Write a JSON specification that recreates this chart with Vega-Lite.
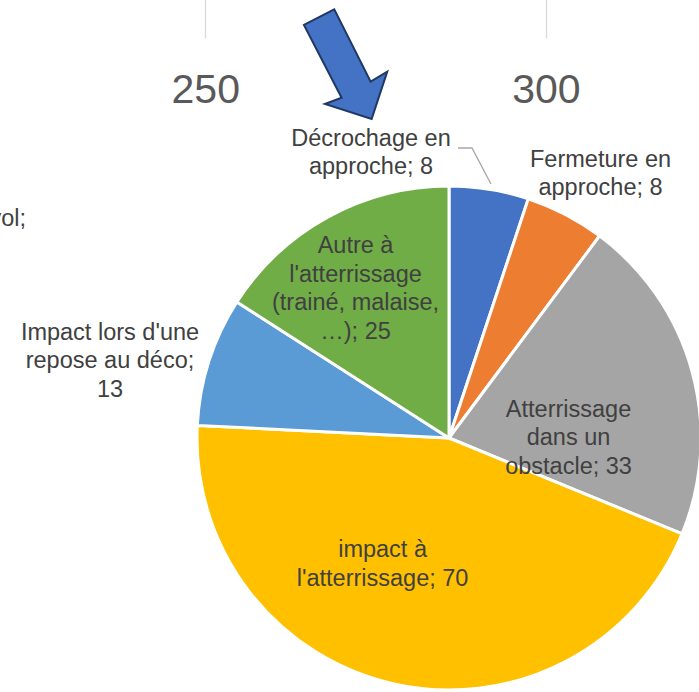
{
  "$schema": "https://vega.github.io/schema/vega-lite/v6.json",
  "width": 500,
  "height": 500,
  "autosize": {"type": "none"},
  "padding": {"left": 199, "top": 188, "right": 0, "bottom": 4},
  "background": "#ffffff",
  "config": {"view": {"stroke": null}},
  "layer": [
    {
      "data": {
        "values": [
          {"cause": "Décrochage en approche", "label": "Décrochage en\napproche; 8", "value": 8, "order": 1},
          {"cause": "Fermeture en approche", "label": "Fermeture en\napproche; 8", "value": 8, "order": 2},
          {"cause": "Atterrissage dans un obstacle", "label": "Atterrissage\ndans un\nobstacle; 33", "value": 33, "order": 3},
          {"cause": "impact à l'atterrissage", "label": "impact à\nl'atterrissage; 70", "value": 70, "order": 4},
          {"cause": "Impact lors d'une repose au déco", "label": "Impact lors d'une\nrepose au déco;\n13", "value": 13, "order": 5},
          {"cause": "Autre à l'atterrissage (trainé, malaise, …)", "label": "Autre à\nl'atterrissage\n(trainé, malaise,\n…); 25", "value": 25, "order": 6}
        ]
      },
      "transform": [
        {"stack": "value", "groupby": [], "sort": [{"field": "order", "order": "ascending"}], "as": ["v0", "v1"]},
        {"calculate": "(datum.v0 + datum.v1) / 2", "as": "mid"}
      ],
      "layer": [
        {
          "mark": {"type": "arc", "outerRadius": 252, "stroke": "#ffffff", "strokeWidth": 3},
          "encoding": {
            "theta": {"field": "v0", "type": "quantitative", "scale": {"domain": [0, 157], "zero": true, "nice": false}},
            "theta2": {"field": "v1"},
            "color": {
              "field": "cause",
              "type": "nominal",
              "sort": null,
              "scale": {
                "domain": ["Décrochage en approche", "Fermeture en approche", "Atterrissage dans un obstacle", "impact à l'atterrissage", "Impact lors d'une repose au déco", "Autre à l'atterrissage (trainé, malaise, …)"],
                "range": ["#4472C4", "#ED7D31", "#A5A5A5", "#FFC000", "#5B9BD5", "#70AD47"]
              },
              "legend": null
            }
          }
        },
        {
          "transform": [{"filter": "datum.order == 1"}],
          "mark": {"type": "text", "radius": 288.7, "dx": -124, "dy": -14, "font": "Liberation Sans", "fontSize": 23.5, "lineHeight": 28, "lineBreak": "\n", "align": "center", "baseline": "middle", "color": "#404040"},
          "encoding": {"theta": {"field": "mid", "type": "quantitative"}, "text": {"field": "label", "type": "nominal"}}
        },
        {
          "transform": [{"filter": "datum.order == 2"}],
          "mark": {"type": "text", "radius": 297.7, "dx": 14, "dy": -14, "font": "Liberation Sans", "fontSize": 23.5, "lineHeight": 28, "lineBreak": "\n", "align": "center", "baseline": "middle", "color": "#404040"},
          "encoding": {"theta": {"field": "mid", "type": "quantitative"}, "text": {"field": "label", "type": "nominal"}}
        },
        {
          "transform": [{"filter": "datum.order == 3"}],
          "mark": {"type": "text", "radius": 123, "dx": 1, "dy": 4.5, "font": "Liberation Sans", "fontSize": 23.5, "lineHeight": 28.5, "lineBreak": "\n", "align": "center", "baseline": "middle", "color": "#404040"},
          "encoding": {"theta": {"field": "mid", "type": "quantitative"}, "text": {"field": "label", "type": "nominal"}}
        },
        {
          "transform": [{"filter": "datum.order == 4"}],
          "mark": {"type": "text", "radius": 130.1, "dx": -38, "dy": -14.5, "font": "Liberation Sans", "fontSize": 23.5, "lineHeight": 29, "lineBreak": "\n", "align": "center", "baseline": "middle", "color": "#404040"},
          "encoding": {"theta": {"field": "mid", "type": "quantitative"}, "text": {"field": "label", "type": "nominal"}}
        },
        {
          "transform": [{"filter": "datum.order == 5"}],
          "mark": {"type": "text", "radius": 356, "dx": 0, "dy": 3.5, "font": "Liberation Sans", "fontSize": 23.5, "lineHeight": 28.5, "lineBreak": "\n", "align": "center", "baseline": "middle", "color": "#404040"},
          "encoding": {"theta": {"field": "mid", "type": "quantitative"}, "text": {"field": "label", "type": "nominal"}}
        },
        {
          "transform": [{"filter": "datum.order == 6"}],
          "mark": {"type": "text", "radius": 169.8, "dx": -12, "dy": -43, "font": "Liberation Sans", "fontSize": 23.5, "lineHeight": 28.7, "lineBreak": "\n", "align": "center", "baseline": "middle", "color": "#404040"},
          "encoding": {"theta": {"field": "mid", "type": "quantitative"}, "text": {"field": "label", "type": "nominal"}}
        }
      ]
    },
    {
      "data": {"values": [{"tick": 250}, {"tick": 300}]},
      "mark": {"type": "tick", "opacity": 0},
      "encoding": {
        "x": {
          "field": "tick",
          "type": "quantitative",
          "scale": {"domain": [249.08, 322.46], "zero": false, "nice": false},
          "axis": {
            "orient": "top",
            "offset": 150,
            "values": [250, 300],
            "domain": false,
            "grid": false,
            "ticks": true,
            "tickSize": 40,
            "tickColor": "#d9d9d9",
            "tickWidth": 1.3,
            "labelFont": "Liberation Sans",
            "labelFontSize": 41,
            "labelColor": "#595959",
            "labelPadding": -104,
            "labelBaseline": "alphabetic",
            "labelFlush": false,
            "title": null
          }
        }
      }
    },
    {
      "data": {"values": [{"px": 270.6, "py": -123.8}]},
      "mark": {
        "type": "point",
        "shape": "M-0.758,-0.713L-0.207,-0.998L0.455,0.318L0.756,0.136L0.473,0.996L-0.376,0.724L-0.073,0.609Z",
        "size": 12100,
        "filled": true,
        "fill": "#4472C4",
        "stroke": "#1F3864",
        "strokeWidth": 2,
        "opacity": 1
      },
      "encoding": {
        "x": {"field": "px", "type": "quantitative", "scale": {"domain": [249.08, 322.46], "zero": false, "nice": false}},
        "y": {"field": "py", "type": "quantitative", "scale": {"domain": [0, 500], "reverse": true, "zero": false, "nice": false}, "axis": null}
      }
    },
    {
      "data": {"values": [{"px": 287.09, "py": -40, "o": 1}, {"px": 289.14, "py": -40, "o": 2}, {"px": 291.93, "py": -4, "o": 3}]},
      "mark": {"type": "line", "color": "#A6A6A6", "strokeWidth": 1.3},
      "encoding": {
        "x": {"field": "px", "type": "quantitative", "scale": {"domain": [249.08, 322.46], "zero": false, "nice": false}},
        "y": {"field": "py", "type": "quantitative", "scale": {"domain": [0, 500], "reverse": true, "zero": false, "nice": false}, "axis": null},
        "order": {"field": "o", "type": "quantitative"}
      }
    },
    {
      "data": {"values": [{"px": 223.69, "py": 38, "txt": "vol;"}]},
      "mark": {"type": "text", "font": "Liberation Sans", "fontSize": 23.5, "align": "right", "baseline": "alphabetic", "color": "#404040"},
      "encoding": {
        "x": {"field": "px", "type": "quantitative", "scale": {"domain": [249.08, 322.46], "zero": false, "nice": false}},
        "y": {"field": "py", "type": "quantitative", "scale": {"domain": [0, 500], "reverse": true, "zero": false, "nice": false}, "axis": null},
        "text": {"field": "txt", "type": "nominal"}
      }
    }
  ]
}
